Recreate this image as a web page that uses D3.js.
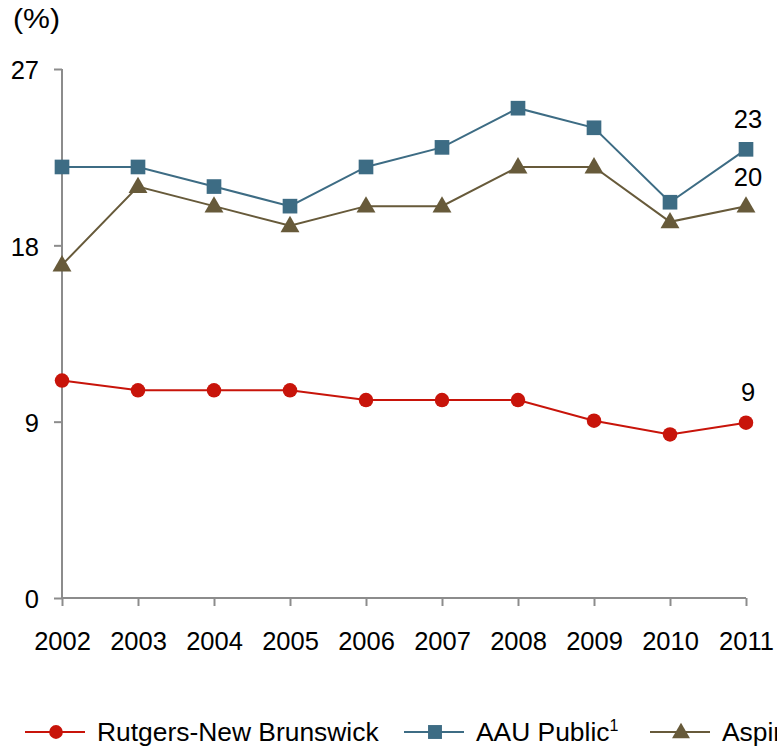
<!DOCTYPE html>
<html><head><meta charset="utf-8">
<script src="https://cdn.jsdelivr.net/npm/d3@7"></script>
<style>body{margin:0;background:#fff}svg{display:block}text{font-family:"Liberation Sans",Arial,sans-serif;fill:#000}</style>
</head><body><svg id="c" width="777" height="747"></svg>
<script>
const years = [2002,2003,2004,2005,2006,2007,2008,2009,2010,2011];
const rutgers = [11.1,10.6,10.6,10.6,10.1,10.1,10.1,9.05,8.35,8.95];
const aauPublic = [22,22,21,20,22,23,25,24,20.2,22.9];
const aspirational = [17,21,20,19,20,20,22,22,19.2,20];
const yTicks = [0,9,18,27];
const endLabels = ["9","23","20"];
const seriesNames = ["Rutgers-New Brunswick","AAU Public","Aspirational Peers"];

const svg = d3.select("#c");
const x = d3.scalePoint().domain(years).range([62,746]);
const y = d3.scaleLinear().domain([0,27]).range([598,69]);
const axisColor = "#8c8c8c";
const fs = 25.5;

// Y axis
const ya = svg.append("g").attr("transform","translate(62,0)")
  .call(d3.axisLeft(y).tickValues(yTicks).tickSize(8).tickPadding(15));
ya.select(".domain").attr("stroke",axisColor).attr("stroke-width",2).attr("d","M0,69V598");
ya.selectAll(".tick line").attr("stroke",axisColor).attr("stroke-width",2);
ya.selectAll(".tick text").attr("font-size",fs).attr("font-family","Liberation Sans, Arial, sans-serif").attr("fill","#000").attr("dy","0.38em");

// X axis
const xa = svg.append("g").attr("transform","translate(0,598)")
  .call(d3.axisBottom(x).tickSize(8).tickPadding(26).tickFormat(d3.format("d")));
xa.select(".domain").attr("stroke",axisColor).attr("stroke-width",2).attr("d","M62,0H746");
xa.selectAll(".tick line").attr("stroke",axisColor).attr("stroke-width",2);
xa.selectAll(".tick text").attr("font-size",fs).attr("font-family","Liberation Sans, Arial, sans-serif").attr("fill","#000");

svg.append("text").attr("x",13).attr("y",28).attr("font-size",28)
  .attr("textLength",47).attr("lengthAdjust","spacingAndGlyphs").text("(%)");

const series = [
  {name:seriesNames[0], values:rutgers, color:"#c8140a", shape:"circle", label:endLabels[0]},
  {name:seriesNames[1], values:aauPublic, color:"#3d6c84", shape:"square", label:endLabels[1]},
  {name:seriesNames[2], values:aspirational, color:"#675a3a", shape:"triangle", label:endLabels[2]}
];
const symType = {circle:d3.symbolCircle, square:d3.symbolSquare, triangle:d3.symbolTriangle};
const symSize = {circle:165, square:215, triangle:155};

const line = d3.line().x((d,i)=>x(years[i])).y(d=>y(d));
[series[2],series[1],series[0]].forEach(s=>{
  const g = svg.append("g");
  g.append("path").attr("d",line(s.values)).attr("fill","none").attr("stroke",s.color).attr("stroke-width",2);
  g.selectAll("path.m").data(s.values).join("path").attr("class","m")
    .attr("transform",(d,i)=>`translate(${x(years[i])},${y(d)+(s.shape==="triangle"?1:0)})`)
    .attr("d",d3.symbol().type(symType[s.shape]).size(symSize[s.shape]))
    .attr("fill",s.color);
});

// end labels
const last = years.length-1;
svg.append("text").attr("x",x(years[last])+2).attr("y",y(rutgers[last])-22).attr("text-anchor","middle").attr("font-size",fs).text(series[0].label);
svg.append("text").attr("x",x(years[last])+2).attr("y",y(aauPublic[last])-21).attr("text-anchor","middle").attr("font-size",fs).text(series[1].label);
svg.append("text").attr("x",x(years[last])+2).attr("y",y(aspirational[last])-20).attr("text-anchor","middle").attr("font-size",fs).text(series[2].label);

// legend
const legY = 732;
const legX = [25,404,650];
series.forEach((s,i)=>{
  const g = svg.append("g").attr("transform",`translate(${legX[i]},${legY})`);
  g.append("line").attr("x1",0).attr("x2",60).attr("y1",0).attr("y2",0).attr("stroke",s.color).attr("stroke-width",2);
  g.append("path").attr("transform",`translate(31,${s.shape==="triangle"?1:0})`)
    .attr("d",d3.symbol().type(symType[s.shape]).size(symSize[s.shape]*0.9)).attr("fill",s.color);
  const t = g.append("text").attr("x",72).attr("y",9).attr("font-size",26.4).text(s.name);
  if(i===1) t.append("tspan").attr("font-size",16).attr("dy",-10).text("1");
});
</script></body></html>
